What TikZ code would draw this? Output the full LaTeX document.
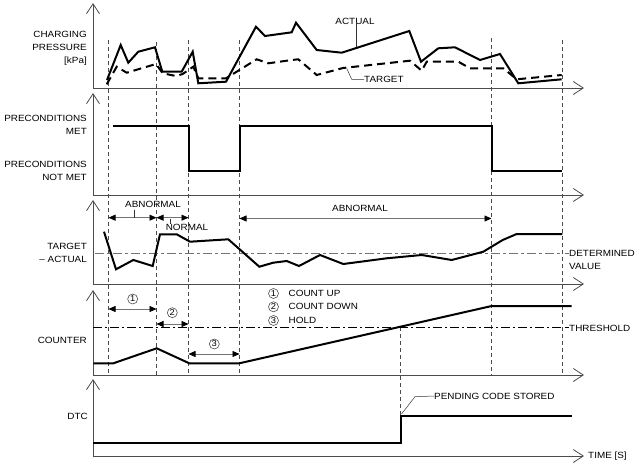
\documentclass[tikz,border=0pt]{standalone}
\usepackage{fontspec}
\setmainfont{Liberation Sans}[FakeStretch=1.1]
\usetikzlibrary{arrows.meta}
\begin{document}
\begin{tikzpicture}[x=1pt,y=-1pt,
  lbl/.style={inner sep=0pt, font=\fontsize{9}{13}\selectfont},
  circ/.style={circle, draw=black!70, line width=0.6pt, minimum size=10pt, inner sep=0pt, font=\fontsize{8.5}{8.5}\selectfont},
  axisline/.style={draw=black!70, line width=0.9pt, -{Straight Barb[length=10pt,width=13pt,line width=0.8pt]}},
  guide/.style={draw=black!70, line width=0.5pt, dash pattern=on 4pt off 3pt},
  sig/.style={draw=black, line width=2pt, line join=miter},
  tgt/.style={draw=black, line width=2pt, dash pattern=on 8pt off 5pt},
  span/.style={draw=black!55, line width=0.7pt, {Triangle[length=7pt,width=6pt,color=black]}-{Triangle[length=7pt,width=6pt,color=black]}},
  leader/.style={draw=black!80, line width=0.5pt},
]
\useasboundingbox (0,0) rectangle (641,466);

% ---------------- axes ----------------
\coordinate (o1) at (93,88);  \coordinate (y1) at (93,3);   \coordinate (x1) at (584,88);
\coordinate (o2) at (93,195); \coordinate (y2) at (93,93);  \coordinate (x2) at (584,195);
\coordinate (o3) at (93,284); \coordinate (y3) at (93,200); \coordinate (x3) at (584,284);
\coordinate (o4) at (93,375); \coordinate (y4) at (93,290); \coordinate (x4) at (584,375);
\coordinate (o5) at (93,456); \coordinate (y5) at (93,379); \coordinate (x5) at (584,456);
\foreach \i in {1,...,5}{
  \draw[axisline] (o\i) -- (y\i);
  \draw[axisline] (o\i) -- (x\i);
}

% ---------------- dashed guides ----------------
\foreach \gx/\gy in {108.5/40, 156.5/42, 188.5/40, 239.5/40, 491.5/38, 562/40}{
  \draw[guide] (\gx,\gy) -- (\gx,375);
}
\coordinate (thx) at (400.5,327);
\coordinate (dtcstep) at (400.5,415.5);
\draw[guide] (thx) -- (dtcstep);

% ---------------- panel 1: charging pressure ----------------
\node[lbl, anchor=east, align=right] (cp) at (87,48) {CHARGING\\PRESSURE\\{[kPa]}};
\draw[sig] (107,80) -- (120.7,45) -- (128.3,62.7) -- (138.3,51.7) -- (155,47.3) -- (162.3,71.7)
  -- (181.7,71.7) -- (192.7,51.7) -- (198.3,83.3) -- (226,81.7) -- (256,26.7) -- (265,36)
  -- (291.7,32.3) -- (296,22.7) -- (316.7,50) -- (341.7,52.7) -- (409.3,31) -- (421,61.7)
  -- (438.3,48.3) -- (455,47.3) -- (480,60) -- (500,54) -- (518.3,83.3) -- (561.7,79.3);
\draw[tgt] (106.7,84.3) -- (116.7,66.7) -- (126.7,72.7) -- (156,64) -- (162.7,73.3) -- (176,76)
  -- (182.7,74) -- (193.3,66.7) -- (198.3,78.3) -- (226,78.3) -- (256.7,59.3) -- (268.3,63.3)
  -- (291.7,60) -- (298.3,59.3) -- (316.7,75) -- (343,68) -- (410,60.7) -- (421.7,70.7)
  -- (426.7,61.7) -- (458.3,61.7) -- (470,68.3) -- (503.3,68.3) -- (516.7,79.3) -- (561.7,75);
\node[lbl] (actual) at (355,21) {ACTUAL};
\coordinate (actpt) at (356.7,46.5);
\draw[leader] (actual.south -| actpt) ++(0,-2) -- (actpt);
\node[lbl, anchor=west] (target) at (364,79.3) {TARGET};
\coordinate (tgtpt) at (346.7,68.3);
\coordinate (tgtbend) at (351.7,79.3);
\draw[leader] (tgtpt) -- (tgtbend) -- (target.west);

% ---------------- panel 2: preconditions ----------------
\node[lbl, anchor=east, align=right] (pm) at (87,124.5) {PRECONDITIONS\\MET};
\node[lbl, anchor=east, align=right] (pnm) at (87,171) {PRECONDITIONS\\NOT MET};
\draw[sig] (113,125.7) -- (188.7,125.7) -- (188.7,170.7) -- (240,170.7) -- (240,125.7)
  -- (491.7,125.7) -- (491.7,170.7) -- (562,170.7);

% ---------------- panel 3: target - actual ----------------
\node[lbl, anchor=east, align=right] (ta) at (87,252.5) {TARGET\\– ACTUAL};
\draw[draw=black!55, line width=1.4pt, dash pattern=on 9pt off 3pt on 3pt off 3pt] (95,253.3) -- (563,253.3);
\draw[draw=black!55, line width=1.4pt] (565,253.3) -- (568.5,253.3);
\node[lbl, anchor=west, align=left] (dv) at (569,259.5) {DETERMINED\\VALUE};
\draw[sig] (104,231.7) -- (116,269.3) -- (133.3,260) -- (152.7,266) -- (160,234.3) -- (176.7,234.3)
  -- (190,241.7) -- (228.3,239.3) -- (259.3,266.7) -- (273.3,262.7) -- (286.7,261) -- (299,266)
  -- (320,255) -- (343.3,264) -- (386.7,258.3) -- (421.7,255) -- (451.7,260) -- (483.3,251.7)
  -- (502.7,240) -- (516.7,234) -- (562.3,234);
\coordinate (a1l) at (108.5,217.7); \coordinate (a1r) at (156.5,217.7); \coordinate (a2r) at (188.5,217.7);
\draw[span] (a1l) -- (a1r);
\draw[span] (a1r) -- (a2r);
\coordinate (a3l) at (239.5,218.5); \coordinate (a3r) at (491.5,218.5);
\draw[span] (a3l) -- (a3r);
\node[lbl] (abn1) at (153,204.5) {ABNORMAL};
\draw[leader] (134.3,209.5) -- (134.3,217.7);
\node[lbl] (nor) at (187,227) {NORMAL};
\draw[leader] (170.7,218.5) -- (nor.north -| 170.7,0);
\node[lbl] (abn2) at (360,208.5) {ABNORMAL};

% ---------------- panel 4: counter ----------------
\node[lbl, anchor=east] (cnt) at (87,340.7) {COUNTER};
\draw[draw=black, line width=0.7pt, dash pattern=on 9pt off 3pt on 2pt off 3pt] (93,327.5) -- (563,327.5);
\draw[draw=black, line width=0.7pt] (565,327.5) -- (568.5,327.5);
\node[lbl, anchor=west] (th) at (569,328) {THRESHOLD};
\draw[sig] (93.3,363.3) -- (113.3,363.3) -- (156.7,348.3) -- (189.3,363.3) -- (239.3,363.3)
  -- (491.7,306) -- (571.7,306);
\coordinate (b1l) at (108.5,309); \coordinate (b1r) at (156.5,309);
\draw[span] (b1l) -- (b1r);
\coordinate (b2l) at (156.5,324); \coordinate (b2r) at (188.5,324);
\draw[span] (b2l) -- (b2r);
\coordinate (b3l) at (188.5,354); \coordinate (b3r) at (239.5,354);
\draw[span] (b3l) -- (b3r);
\node[circ] (c1) at (132.7,299) {1};
\node[circ] (c2) at (172.3,312.7) {2};
\node[circ] (c3) at (214.3,344) {3};
\node[circ] (l1) at (273.5,293.5) {1};
\node[circ] (l2) at (273.5,306.8) {2};
\node[circ] (l3) at (273.5,320.5) {3};
\node[lbl, anchor=west] (t1) at (288.5,293.5) {COUNT UP};
\node[lbl, anchor=west] (t2) at (288.5,306.8) {COUNT DOWN};
\node[lbl, anchor=west] (t3) at (288.5,320.5) {HOLD};

% ---------------- panel 5: DTC ----------------
\node[lbl, anchor=east] (dtc) at (88,416) {DTC};
\draw[sig] (93,442.7) -- (400.5,442.7) -- (dtcstep) -- (571.7,415.5);
\node[lbl, anchor=west] (pcs) at (434,396) {PENDING CODE STORED};
\coordinate (pcsbend) at (415,396.7);
\draw[leader] (401.5,414) -- (pcsbend) -- (pcs.west);
\node[lbl, anchor=west] (time) at (588,456.5) {TIME [S]};
\end{tikzpicture}
\end{document}
